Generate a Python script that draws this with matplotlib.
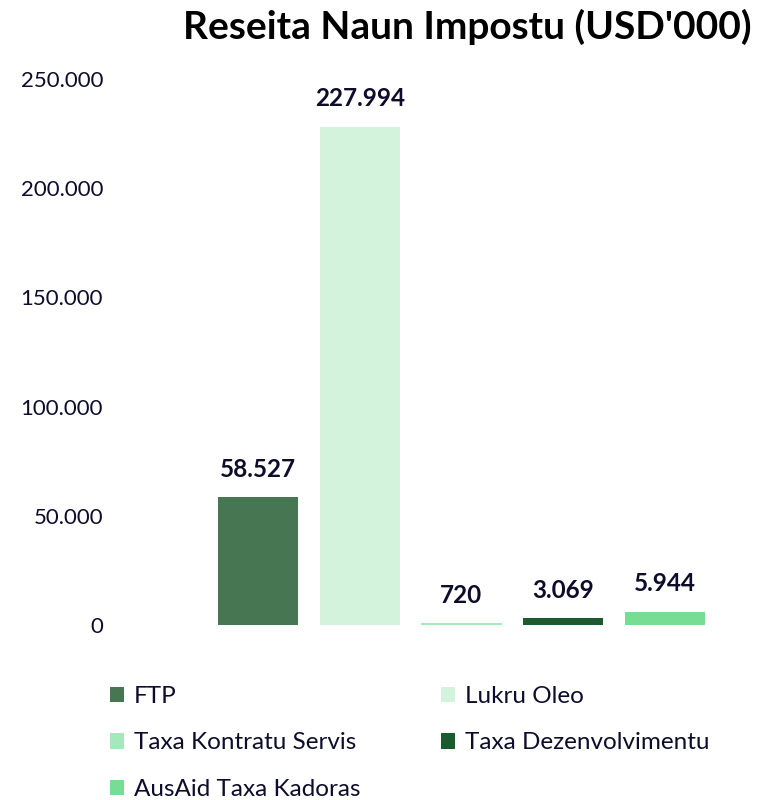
import matplotlib.pyplot as plt
from matplotlib.ticker import FuncFormatter
from matplotlib.patches import Patch

categories = ["FTP", "Lukru Oleo", "Taxa Kontratu Servis", "Taxa Dezenvolvimentu", "AusAid Taxa Kadoras"]
values = [58527, 227994, 720, 3069, 5944]
colors = ["#477652", "#d3f3dc", "#a3e9bb", "#1a5c2e", "#78dd94"]
title = "Reseita Naun Impostu (USD'000)"

text_color = "#0d0d2b"
plt.rcParams["font.family"] = ["Lato", "DejaVu Sans"]


def dot_thousands(v):
    return f"{v:,.0f}".replace(",", ".")


fig = plt.figure(figsize=(7.69, 8), dpi=100)
ax = fig.add_axes([110 / 769, 175 / 800, 650 / 769, 546 / 800])

x = list(range(len(categories)))
ax.bar(x, values, width=0.79, color=colors)

for xi, v in zip(x, values):
    ax.annotate(dot_thousands(v), (xi, v), xytext=(0, 12), textcoords="offset points",
                ha="center", va="bottom", fontsize=17.5, fontweight="bold",
                color=text_color, annotation_clip=False)

ax.set_xlim(-1.455, 4.936)
ax.set_ylim(0, 250000)
ax.set_yticks(range(0, 250001, 50000))
ax.yaxis.set_major_formatter(FuncFormatter(lambda v, p: dot_thousands(v)))
ax.tick_params(axis="y", length=0, pad=5, labelsize=16, labelcolor=text_color)
ax.set_xticks([])
for s in ax.spines.values():
    s.set_visible(False)

fig.text(0.978, 0.966, title, ha="right", va="center", fontsize=28,
         fontweight="bold", color="black")

handles = [Patch(facecolor=c, edgecolor="none") for c in colors]
order = [0, 2, 4, 1, 3]
fig.legend([handles[i] for i in order], [categories[i] for i in order],
           ncol=2, loc="upper left", bbox_to_anchor=(88 / 769, 1 - 664 / 800),
           frameon=False, fontsize=17.5, labelcolor=text_color,
           handlelength=0.6, handleheight=0.6, handletextpad=0.4,
           columnspacing=3.3, labelspacing=1.05)

fig.savefig("out.png", dpi=100)
